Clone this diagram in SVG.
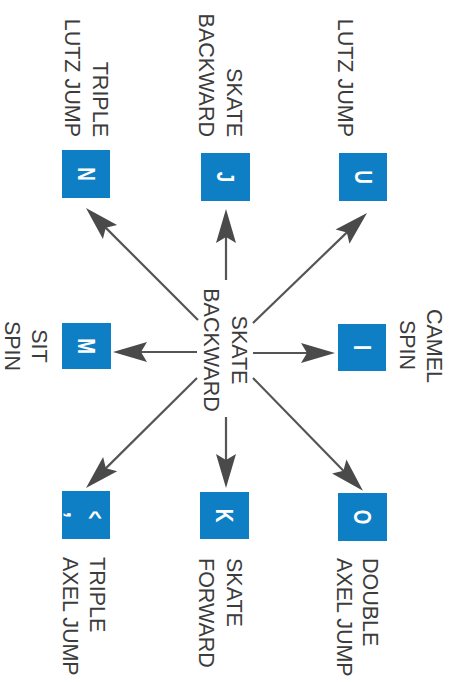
<svg xmlns="http://www.w3.org/2000/svg" width="451" height="682" viewBox="0 0 451 682">
<style>
.box{fill:#0e7fc5}
.key{font-family:"Liberation Sans",Arial,sans-serif;font-weight:bold;font-size:23px;fill:#ffffff;text-anchor:middle}
.lbl{font-family:"Liberation Sans",Arial,sans-serif;font-size:21.5px;fill:#3c3c3c}
.conn{stroke:#555555;stroke-width:2.2;fill:none;marker-end:url(#ah)}
</style>
<defs>
<marker id="ah" viewBox="-16 -12 38 24" markerWidth="38" markerHeight="24" refX="0" refY="0" orient="auto" markerUnits="userSpaceOnUse">
<path d="M20,0 L-14,-10 L-8,0 L-14,10 Z" fill="#4a4a4a"/>
</marker>
</defs>
<rect width="451" height="682" fill="#ffffff"/>

<g id="connectors">
<line class="conn" x1="198" y1="320" x2="100.1" y2="222.1"/>
<line class="conn" x1="226" y1="280" x2="226" y2="229"/>
<line class="conn" x1="253" y1="323" x2="352.6" y2="226.9"/>
<line class="conn" x1="197" y1="352" x2="133" y2="352"/>
<line class="conn" x1="253" y1="353" x2="315" y2="353"/>
<line class="conn" x1="197" y1="378" x2="100.2" y2="473.9"/>
<line class="conn" x1="226" y1="417" x2="226" y2="468"/>
<line class="conn" x1="253" y1="378" x2="349" y2="476.5"/>
</g>

<g id="center">
<text class="lbl" text-anchor="middle" transform="translate(232,350) rotate(90)">SKATE</text>
<text class="lbl" text-anchor="middle" transform="translate(204,350) rotate(90)">BACKWARD</text>
</g>

<g id="node-N">
<rect class="box" x="62" y="150" width="48" height="48"/>
<text class="key" transform="translate(86,174) rotate(90) scale(0.82,1)" y="8.3">N</text>
<text class="lbl" text-anchor="end" transform="translate(93,137) rotate(90)">TRIPLE</text>
<text class="lbl" text-anchor="end" transform="translate(65,137) rotate(90)">LUTZ JUMP</text>
</g>

<g id="node-J">
<rect class="box" x="201" y="153" width="49" height="48"/>
<text class="key" transform="translate(225.5,177) rotate(90) scale(0.82,1)" y="8.3">J</text>
<text class="lbl" text-anchor="end" transform="translate(227,137) rotate(90)">SKATE</text>
<text class="lbl" text-anchor="end" transform="translate(199,137) rotate(90)">BACKWARD</text>
</g>

<g id="node-U">
<rect class="box" x="339" y="153" width="48" height="48"/>
<text class="key" transform="translate(363,177) rotate(90) scale(0.82,1)" y="8.3">U</text>
<text class="lbl" text-anchor="end" transform="translate(338,137) rotate(90)">LUTZ JUMP</text>
</g>

<g id="node-M">
<rect class="box" x="62" y="323" width="49" height="46"/>
<text class="key" transform="translate(86.5,346) rotate(90) scale(0.82,1)" y="8.3">M</text>
<text class="lbl" text-anchor="middle" transform="translate(32,346) rotate(90)">SIT</text>
<text class="lbl" text-anchor="middle" transform="translate(5,346) rotate(90)">SPIN</text>
</g>

<g id="node-I">
<rect class="box" x="338" y="324" width="48" height="47"/>
<text class="key" transform="translate(362,347.5) rotate(90) scale(0.82,1)" y="8.3">I</text>
<text class="lbl" text-anchor="middle" transform="translate(427,346) rotate(90)">CAMEL</text>
<text class="lbl" text-anchor="middle" transform="translate(400,345) rotate(90)">SPIN</text>
</g>

<g id="node-comma">
<rect class="box" x="62" y="491" width="48" height="48"/>
<text class="key" transform="translate(86,515) rotate(90) scale(0.6,1)" y="-1">&lt;</text>
<text class="key" transform="translate(86,515) rotate(90)" y="19">,</text>
<text class="lbl" text-anchor="start" transform="translate(90,557) rotate(90)">TRIPLE</text>
<text class="lbl" text-anchor="start" transform="translate(63,557) rotate(90)">AXEL JUMP</text>
</g>

<g id="node-K">
<rect class="box" x="200" y="492" width="49" height="47"/>
<text class="key" transform="translate(224.5,515.5) rotate(90) scale(0.82,1)" y="8.3">K</text>
<text class="lbl" text-anchor="start" transform="translate(227,558) rotate(90)">SKATE</text>
<text class="lbl" text-anchor="start" transform="translate(199,558) rotate(90)">FORWARD</text>
</g>

<g id="node-O">
<rect class="box" x="338" y="493" width="49" height="48"/>
<text class="key" transform="translate(362.5,517) rotate(90) scale(0.82,1)" y="8.3">O</text>
<text class="lbl" text-anchor="start" transform="translate(363,558) rotate(90)">DOUBLE</text>
<text class="lbl" text-anchor="start" transform="translate(337,558) rotate(90)">AXEL JUMP</text>
</g>
</svg>
